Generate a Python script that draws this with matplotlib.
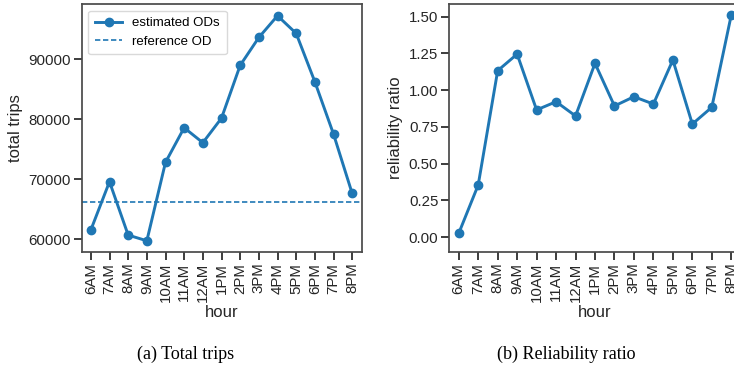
import numpy as np
import matplotlib
matplotlib.use("Agg")
import matplotlib.pyplot as plt

# -------------------------
#          Data
# -------------------------
hours = ["6AM", "7AM", "8AM", "9AM", "10AM", "11AM", "12AM", "1PM",
         "2PM", "3PM", "4PM", "5PM", "6PM", "7PM", "8PM"]
total_trips = [61550, 69600, 60700, 59750, 72830, 78600, 76100, 80200,
               89000, 93650, 97270, 94330, 86270, 77550, 67650]
reference_od = 66300
reliability = [0.025, 0.354, 1.132, 1.245, 0.865, 0.921, 0.824, 1.182,
               0.892, 0.955, 0.905, 1.205, 0.769, 0.883, 1.511]

blue = "#1f77b4"
dark = "#262626"

plt.rcParams["font.family"] = ["Liberation Sans", "DejaVu Sans"]
plt.rcParams["axes.edgecolor"] = "#4a4a4a"
plt.rcParams["axes.linewidth"] = 1.25
plt.rcParams["xtick.color"] = dark
plt.rcParams["ytick.color"] = dark
plt.rcParams["xtick.major.size"] = 5.5
plt.rcParams["ytick.major.size"] = 5.5
plt.rcParams["xtick.major.width"] = 1.25
plt.rcParams["ytick.major.width"] = 1.25
plt.rcParams["xtick.major.pad"] = 2.2
plt.rcParams["ytick.major.pad"] = 2.2

W, H = 734, 367
fig = plt.figure(figsize=(W / 100, H / 100), dpi=100)

def px_axes(x0, x1, y0, y1):
    return fig.add_axes([x0 / W, 1 - y1 / H, (x1 - x0) / W, (y1 - y0) / H])

ax1 = px_axes(81.5, 361.5, 4, 252)
ax2 = px_axes(449, 741, 4, 252)

x = np.arange(len(hours))

# ---- (a) total trips ----
ax1.plot(x, total_trips, color=blue, lw=2.1, marker="o", ms=6, label="estimated ODs")
ax1.axhline(reference_od, color=blue, lw=1.2, ls=(0, (3.2, 1.6)), label="reference OD")
ax1.set_xlim(-0.5, len(hours) - 0.5)
ax1.set_ylim(57880, 99230)
ax1.set_yticks([60000, 70000, 80000, 90000])
ax1.set_ylabel("total trips", fontsize=12, color=dark)
leg = ax1.legend(loc="upper left", fontsize=9.5, frameon=True, fancybox=True,
                 handlelength=2.1, handletextpad=0.75, borderpad=0.5, labelspacing=0.45)
leg.get_frame().set_edgecolor("#d0d0d0")

# ---- (b) reliability ratio ----
ax2.plot(x, reliability, color=blue, lw=2.1, marker="o", ms=6)
ax2.set_xlim(-0.5, len(hours) - 0.5)
ax2.set_ylim(-0.102, 1.586)
ax2.set_yticks([0.0, 0.25, 0.5, 0.75, 1.0, 1.25, 1.5])
ax2.set_yticklabels([f"{v:.2f}" for v in [0.0, 0.25, 0.5, 0.75, 1.0, 1.25, 1.5]])
ax2.set_ylabel("reliability ratio", fontsize=12, color=dark)

for ax in (ax1, ax2):
    ax.set_xticks(x)
    ax.set_xticklabels(hours, rotation=90)
    ax.tick_params(labelsize=10.8)
    ax.set_xlabel("hour", fontsize=12, color=dark, labelpad=2)

# captions
fig.text(186 / W, 1 - 354 / H, "(a) Total trips", ha="center", va="center",
         fontsize=13, family="Liberation Serif")
fig.text(566 / W, 1 - 354 / H, "(b) Reliability ratio", ha="center", va="center",
         fontsize=13, family="Liberation Serif")

fig.savefig("out.png", dpi=100)
